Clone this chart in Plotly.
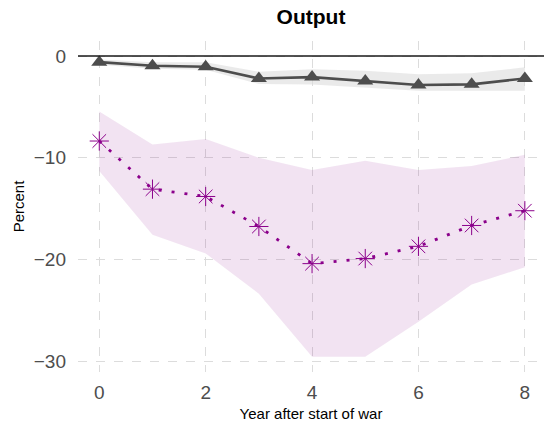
import plotly.graph_objects as go

years = [0, 1, 2, 3, 4, 5, 6, 7, 8]

# Black series (triangles) and its band
base_vals = [-0.6, -0.95, -1.05, -2.2, -2.07, -2.45, -2.85, -2.78, -2.2]
base_hi = [-0.35, -0.6, -0.6, -1.55, -1.3, -1.45, -1.8, -1.7, -1.1]
base_lo = [-0.85, -1.25, -1.35, -2.75, -2.8, -3.1, -3.4, -3.4, -3.4]

# Purple series (asterisks) and its band
war_vals = [-8.35, -13.08, -13.8, -16.75, -20.4, -19.9, -18.7, -16.65, -15.2]
war_hi = [-5.45, -8.7, -8.15, -10.0, -11.2, -10.3, -11.2, -10.8, -9.7]
war_lo = [-11.3, -17.55, -19.4, -23.35, -29.55, -29.55, -26.1, -22.45, -20.75]

x_ticks = [0, 2, 4, 6, 8]
y_ticks = [0, -10, -20, -30]

GRAY_LINE = "#4d4d4d"
GRAY_BAND = "rgba(220,220,220,0.6)"
PURPLE = "#8b008b"
PURPLE_BAND = "rgba(139,0,139,0.11)"
FONT = "Liberation Sans, Arial, sans-serif"

fig = go.Figure()

# purple band
fig.add_trace(go.Scatter(x=years, y=war_hi, mode="lines", line=dict(width=0),
                         hoverinfo="skip", showlegend=False))
fig.add_trace(go.Scatter(x=years, y=war_lo, mode="lines", line=dict(width=0),
                         fill="tonexty", fillcolor=PURPLE_BAND,
                         hoverinfo="skip", showlegend=False))
# gray band
fig.add_trace(go.Scatter(x=years, y=base_hi, mode="lines", line=dict(width=0),
                         hoverinfo="skip", showlegend=False))
fig.add_trace(go.Scatter(x=years, y=base_lo, mode="lines", line=dict(width=0),
                         fill="tonexty", fillcolor=GRAY_BAND,
                         hoverinfo="skip", showlegend=False))

# zero line
fig.add_hline(y=0, line=dict(color="#1a1a1a", width=1.6))

# black series
fig.add_trace(go.Scatter(x=years, y=base_vals, mode="lines+markers",
                         line=dict(color=GRAY_LINE, width=2.6),
                         marker=dict(symbol="triangle-up", size=14, color=GRAY_LINE),
                         showlegend=False))
# purple series
fig.add_trace(go.Scatter(x=years, y=war_vals, mode="lines+markers",
                         line=dict(color=PURPLE, width=2.8, dash="3px,10px"),
                         marker=dict(symbol="asterisk-open", size=16,
                                     line=dict(color=PURPLE, width=1.0)),
                         showlegend=False))

fig.update_layout(
    width=544, height=422,
    margin=dict(l=78, r=0, t=41, b=50),
    paper_bgcolor="white", plot_bgcolor="white",
    font=dict(family=FONT),
    title=dict(text="<b>Output</b>", x=(78 + 544) / 2 / 544, xanchor="center",
               y=1 - 17 / 422, yanchor="middle",
               font=dict(size=21, color="black", family=FONT)),
    xaxis=dict(range=[-0.4, 8.36], tickvals=x_ticks, showgrid=True,
               gridcolor="#dcdcdc", griddash="dash", gridwidth=1,
               zeroline=False, showline=False, ticks="",
               ticklabelstandoff=7,
               tickfont=dict(size=19, color="#4d4d4d"),
               title=dict(text="Year after start of war", standoff=6,
                          font=dict(size=15, color="black"))),
    yaxis=dict(range=[-31.05, 1.48], tickvals=y_ticks, showgrid=True,
               gridcolor="#dcdcdc", griddash="dash", gridwidth=1,
               zeroline=False, showline=False, ticks="",
               ticklabelstandoff=11,
               tickfont=dict(size=19, color="#4d4d4d"),
               title=dict(text="Percent", standoff=5,
                          font=dict(size=15, color="black"))),
)

fig.write_html("out.html")
